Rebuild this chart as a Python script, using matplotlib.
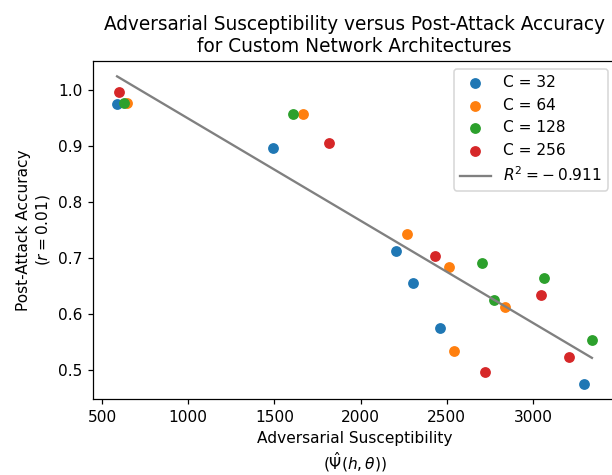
import matplotlib
matplotlib.use("Agg")
import matplotlib.pyplot as plt
import numpy as np

# susceptibility / accuracy per channel count
channels = [32, 64, 128, 256]
sus_32 = [587, 1494, 2205, 2306, 2459, 3297]
acc_32 = [0.974, 0.896, 0.711, 0.654, 0.575, 0.475]
sus_64 = [645, 1666, 2269, 2515, 2838, 2540]
acc_64 = [0.976, 0.957, 0.743, 0.683, 0.611, 0.534]
sus_128 = [628, 1610, 2702, 2776, 3062, 3342]
acc_128 = [0.976, 0.957, 0.691, 0.625, 0.664, 0.553]
sus_256 = [600, 1818, 2431, 3046, 3207, 2720]
acc_256 = [0.996, 0.905, 0.703, 0.634, 0.523, 0.495]

sus = [sus_32, sus_64, sus_128, sus_256]
acc = [acc_32, acc_64, acc_128, acc_256]

DPI = 111
fig, ax = plt.subplots(figsize=(612 / DPI, 475 / DPI), dpi=DPI)
fig.subplots_adjust(left=0.1525, right=1.006, bottom=0.16, top=0.8716)

for c, x, y in zip(channels, sus, acc):
    ax.scatter(x, y, label='C = %d' % c)

all_x = np.concatenate([np.array(s) for s in sus])
all_y = np.concatenate([np.array(a) for a in acc])
m, b = np.polyfit(all_x, all_y, 1)
xs = np.array([all_x.min(), all_x.max()])
ax.plot(xs, m * xs + b, color='gray', label='$R^2 = -\\:0.911$')

ax.set_title('Adversarial Susceptibility versus Post-Attack Accuracy\nfor Custom Network Architectures')
ax.set_xlabel('Adversarial Susceptibility\n($\\hat{\\Psi}(h, \\theta)$)')
ax.set_ylabel('Post-Attack Accuracy\n($r = 0.01$)')
ax.legend(loc='upper right')

fig.savefig('out.png', dpi=DPI)
